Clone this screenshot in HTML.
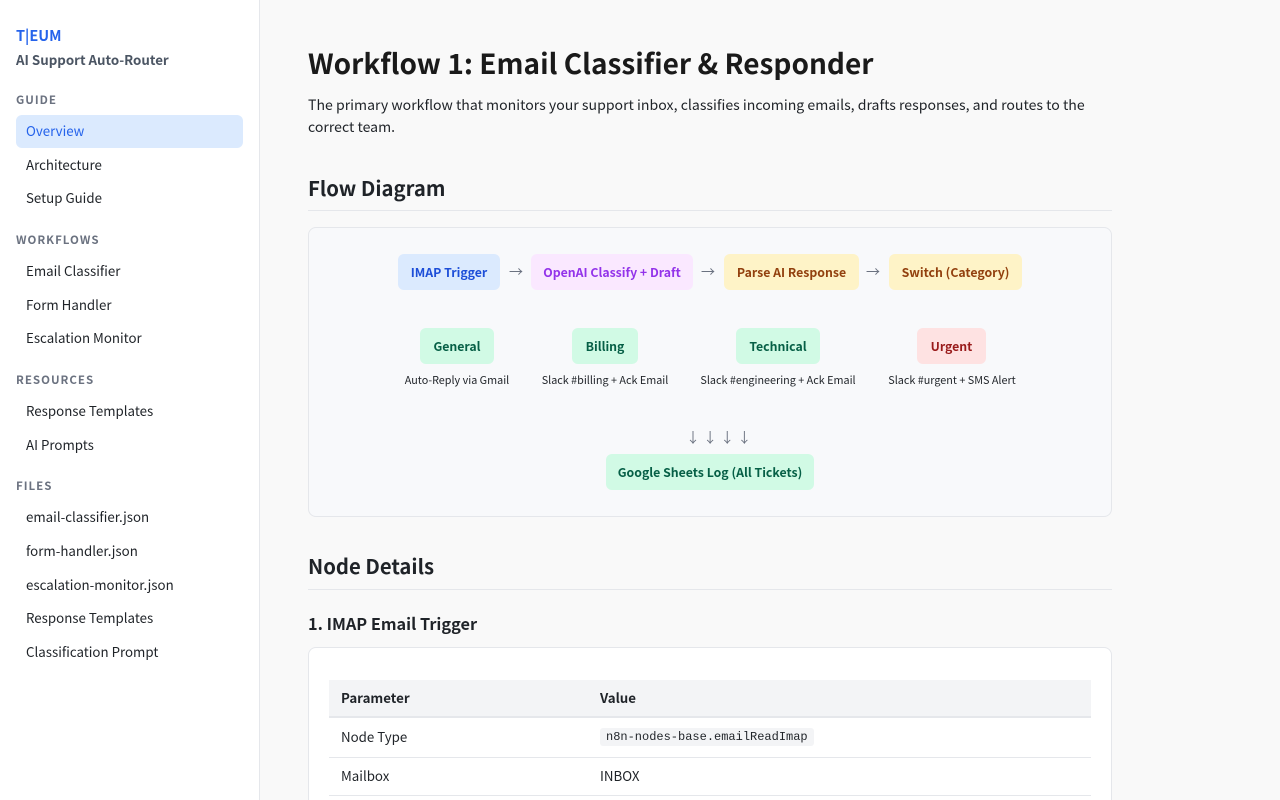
<!DOCTYPE html>
<html><head><meta charset="utf-8"><style>
*{margin:0;padding:0;box-sizing:border-box}
html,body{width:1280px;height:800px;overflow:hidden}
body{background:#f9f9f9;font-family:"Noto Sans CJK KR","Liberation Sans",sans-serif;color:#1f2328;position:relative}
.a{position:absolute;white-space:nowrap}
#side{position:absolute;left:0;top:0;width:260px;height:800px;background:#fff;border-right:1px solid #e5e7eb}
.sec{position:absolute;left:16px;font-size:11.5px;font-weight:700;color:#6b7280;letter-spacing:1px;line-height:16px}
.it{position:absolute;left:26px;font-size:13.3px;color:#1f2328;line-height:20px}
.n{position:absolute;height:36px;border-radius:6px;display:flex;align-items:center;justify-content:center;font-size:12.3px;font-weight:700}
.bl{background:#dbeafe;color:#1d4ed8}.pu{background:#fae8ff;color:#9333ea}.ye{background:#fef3c7;color:#92400e}.gr{background:#d1fae5;color:#065f46}.re{background:#fee2e2;color:#991b1b}
.lb{position:absolute;font-size:10.8px;color:#1f2328;text-align:center;transform:translateX(-50%);white-space:nowrap;line-height:14px}
.ar{position:absolute;font-size:14px;color:#6b7280;line-height:16px}
.hr{position:absolute;left:308px;width:804px;height:1px;background:#e5e7eb}
</style></head><body>
<div id="side">
<div class="a" style="left:16px;top:26px;font-size:14.5px;font-weight:700;color:#2563eb;line-height:20px">T|EUM</div>
<div class="a" style="left:16px;top:50px;font-size:13.3px;font-weight:700;color:#4b5563;line-height:20px">AI Support Auto-Router</div>
<div class="sec" style="top:92px">GUIDE</div>
<div style="position:absolute;left:16px;top:115px;width:227px;height:33px;background:#dbeafe;border-radius:6px"></div>
<div class="it" style="top:121px;color:#2563eb">Overview</div>
<div class="it" style="top:155px">Architecture</div>
<div class="it" style="top:188px">Setup Guide</div>
<div class="sec" style="top:232px">WORKFLOWS</div>
<div class="it" style="top:261px">Email Classifier</div>
<div class="it" style="top:295px">Form Handler</div>
<div class="it" style="top:328px">Escalation Monitor</div>
<div class="sec" style="top:372px">RESOURCES</div>
<div class="it" style="top:401px">Response Templates</div>
<div class="it" style="top:435px">AI Prompts</div>
<div class="sec" style="top:478px">FILES</div>
<div class="it" style="top:507px">email-classifier.json</div>
<div class="it" style="top:541px">form-handler.json</div>
<div class="it" style="top:575px">escalation-monitor.json</div>
<div class="it" style="top:608px">Response Templates</div>
<div class="it" style="top:642px">Classification Prompt</div>
</div>

<div class="a" style="left:308px;top:43px;font-size:28px;font-weight:700;color:#1a1a1a;line-height:40px">Workflow 1: Email Classifier &amp; Responder</div>
<div class="a" style="left:308px;top:94px;font-size:14.1px;line-height:22px;color:#1f2328;white-space:normal;width:785px">The primary workflow that monitors your support inbox, classifies incoming emails, drafts responses, and routes to the correct team.</div>
<div class="a" style="left:308px;top:172px;font-size:20.3px;font-weight:700;line-height:30px">Flow Diagram</div>
<div class="hr" style="top:210px"></div>

<div style="position:absolute;left:308px;top:227px;width:804px;height:290px;background:#f8f9fb;border:1px solid #e5e7eb;border-radius:8px"></div>
<div class="n bl" style="left:398px;top:254px;width:102px">IMAP Trigger</div>
<div class="ar" style="left:509px;top:264px">→</div>
<div class="n pu" style="left:531px;top:254px;width:162px">OpenAI Classify + Draft</div>
<div class="ar" style="left:701px;top:264px">→</div>
<div class="n ye" style="left:724px;top:254px;width:135px">Parse AI Response</div>
<div class="ar" style="left:866px;top:264px">→</div>
<div class="n ye" style="left:889px;top:254px;width:133px">Switch (Category)</div>

<div class="n gr" style="left:420px;top:328px;width:74px">General</div>
<div class="n gr" style="left:572px;top:328px;width:66px">Billing</div>
<div class="n gr" style="left:736px;top:328px;width:84px">Technical</div>
<div class="n re" style="left:917px;top:328px;width:69px">Urgent</div>
<div class="lb" style="left:457px;top:373px">Auto-Reply via Gmail</div>
<div class="lb" style="left:605px;top:373px">Slack #billing + Ack Email</div>
<div class="lb" style="left:778px;top:373px">Slack #engineering + Ack Email</div>
<div class="lb" style="left:952px;top:373px">Slack #urgent + SMS Alert</div>
<div class="ar" style="left:686px;top:430px">↓ ↓ ↓ ↓</div>
<div class="n gr" style="left:606px;top:454px;width:208px">Google Sheets Log (All Tickets)</div>

<div class="a" style="left:308px;top:550px;font-size:20.3px;font-weight:700;line-height:30px">Node Details</div>
<div class="hr" style="top:589px"></div>
<div class="a" style="left:308px;top:611px;font-size:16.3px;font-weight:700;line-height:24px">1. IMAP Email Trigger</div>

<div style="position:absolute;left:308px;top:647px;width:804px;height:153px;background:#fff;border:1px solid #e5e7eb;border-bottom:none;border-radius:8px 8px 0 0"></div>
<div style="position:absolute;left:329px;top:680px;width:762px;height:38px;background:#f3f4f6;border-bottom:2px solid #e5e7eb"></div>
<div class="a" style="left:341px;top:688px;font-size:13.3px;font-weight:700;line-height:20px">Parameter</div>
<div class="a" style="left:600px;top:688px;font-size:13.3px;font-weight:700;line-height:20px">Value</div>
<div class="a" style="left:341px;top:727px;font-size:13.3px;line-height:20px">Node Type</div>
<div class="a" style="left:600px;top:728px;height:18px;padding:0 6px;background:#f3f4f6;border-radius:3px;font-family:'Liberation Mono',monospace;font-size:12px;line-height:18px">n8n-nodes-base.emailReadImap</div>
<div style="position:absolute;left:329px;top:757px;width:762px;height:1px;background:#e5e7eb"></div>
<div class="a" style="left:341px;top:766px;font-size:13.3px;line-height:20px">Mailbox</div>
<div class="a" style="left:600px;top:766px;font-size:13.3px;line-height:20px">INBOX</div>
<div style="position:absolute;left:329px;top:795px;width:762px;height:1px;background:#e5e7eb"></div>
</body></html>
